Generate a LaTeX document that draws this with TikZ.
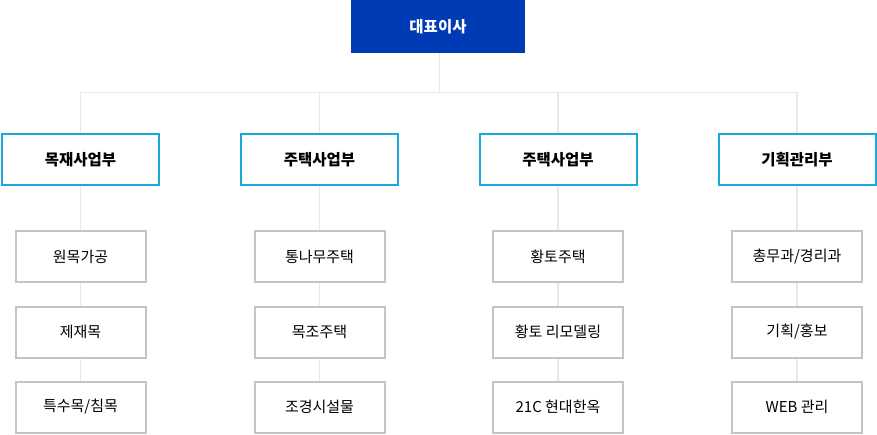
\documentclass[tikz,border=0pt]{standalone}
\usepackage{fontspec}
\setmainfont{Noto Sans CJK KR}
\usetikzlibrary{positioning}
\definecolor{ceoBlue}{RGB}{0,59,182}
\definecolor{deptCyan}{RGB}{26,168,218}
\definecolor{teamGray}{RGB}{196,196,196}
\definecolor{lineGray}{RGB}{232,232,232}

\begin{document}
\begin{tikzpicture}[
    x=1pt, y=-1pt,
    ceo/.style={fill=ceoBlue, draw=none, text=white, font=\bfseries\fontsize{15.5}{18}\selectfont,
                minimum width=174pt, minimum height=53pt, inner sep=0pt},
    dept/.style={draw=deptCyan, fill=white, line width=2pt, font=\bfseries\fontsize{15.5}{18}\selectfont,
                minimum width=157pt, minimum height=51pt, inner sep=0pt},
    team/.style={draw=teamGray, fill=white, line width=2pt, font=\fontsize{15}{18}\selectfont,
                minimum width=130pt, minimum height=51pt, inner sep=0pt},
    conn/.style={draw=lineGray, line width=1.6pt}
]
\useasboundingbox (0,0) rectangle (877,435);

% Top: CEO
\node[ceo] (ceo) at (438,26.5) {대표이사};
\coordinate (bus) at (439.5,92.5);

% Departments
\node[dept] (d1) at (80.5,159.5) {목재사업부};
\node[dept] (d2) at (319.5,159.5) {주택사업부};
\node[dept] (d3) at (558,159.5) {주택사업부};
\node[dept] (d4) at (797,159.5) {기획관리부};

% Teams under each department
\node[team] (t11) at (80.5,257) {원목가공};
\node[team] (t12) at (80.5,332) {제재목};
\node[team] (t13) at (80.5,407) {특수목/침목};

\node[team] (t21) at (319.5,257) {통나무주택};
\node[team] (t22) at (319.5,332) {목조주택};
\node[team] (t23) at (319.5,407) {조경시설물};

\node[team] (t31) at (558,257) {황토주택};
\node[team] (t32) at (558,332) {황토 리모델링};
\node[team] (t33) at (558,407) {21C 현대한옥};

\node[team] (t41) at (797,257) {총무과/경리과};
\node[team] (t42) at (797,332) {기획/홍보};
\node[team] (t43) at (797,407) {WEB 관리};

% Connectors
\draw[conn] (ceo.south -| bus) -- (bus);
\foreach \d in {1,...,4}{
  \draw[conn] (bus) -| (d\d.north);
  \draw[conn] (d\d.south) -- (t\d1.north);
  \draw[conn] (t\d1.south) -- (t\d2.north);
  \draw[conn] (t\d2.south) -- (t\d3.north);
}
\end{tikzpicture}
\end{document}
